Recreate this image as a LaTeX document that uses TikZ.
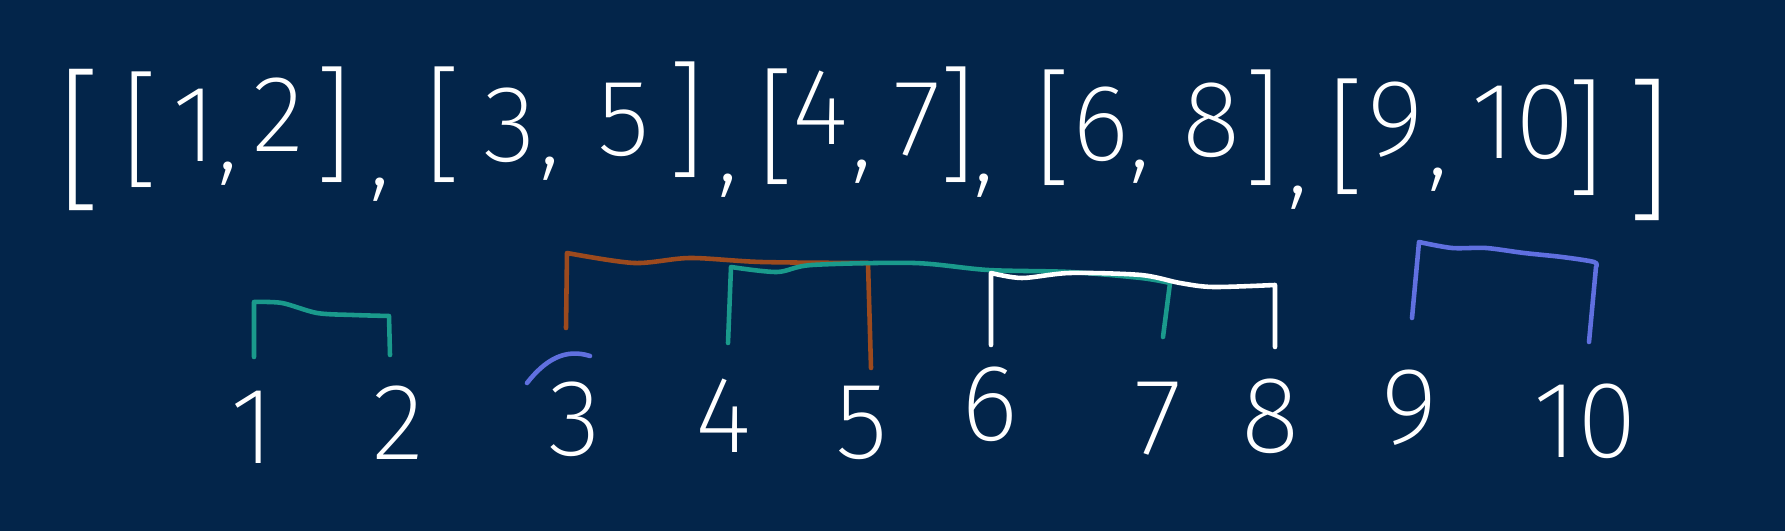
\documentclass[tikz,border=0pt]{standalone}
\usepackage{fontspec}
\IfFontExistsTF{Fira Sans ExtraLight}{\setmainfont{Fira Sans ExtraLight}}{\setmainfont{Fira Sans}}
\usetikzlibrary{calc}
\definecolor{board}{HTML}{03254A}
\definecolor{penteal}{HTML}{1A9A8C}
\definecolor{penbrown}{HTML}{9C4A1E}
\definecolor{penblue}{HTML}{6070E0}

\begin{document}
\begin{tikzpicture}[x=0.01cm,y=-0.01cm,
  tok/.style={text=white,inner sep=0pt,font=\fontsize{31}{31}\selectfont},
  brk/.style={tok,font=\fontsize{36}{36}\selectfont},
  obrk/.style={tok,font=\fontsize{44}{44}\selectfont},
  pen/.style={line width=1.3pt,line cap=round,line join=round}]
  \fill[board] (0,0) rectangle (1785,531);
  \useasboundingbox (0,0) rectangle (1785,531);
  % the list as written
  \foreach \nm/\x/\y/\s/\t in {lo/80/140/obrk/[, l1/140/130/brk/[, a1/195/125/tok/1, c1/228/174/tok/{,},
      b1/278/115/tok/2, r1/333/125/brk/], d1/380/190/tok/{,},
      l2/443/125/brk/[, a2/510/125/tok/3, c2/550/169/tok/{,}, b2/624/120/tok/5, r2/686/120/brk/], d2/728/186/tok/{,},
      l3/776/127/brk/[, a3/820/108/tok/4, c3/862/172/tok/{,}, b3/917/120/tok/7, r3/957/125/brk/], d3/984/186/tok/{,},
      l4/1053/128/brk/[, a4/1101/124/tok/6, c4/1140/172/tok/{,}, b4/1212/120/tok/8, r4/1262/128/brk/], d4/1298/198/tok/{,},
      l5/1346/137/brk/[, a5/1396/120/tok/9, c5/1438/180/tok/{,}, b5/1523/122/tok/10, r5/1585/138/brk/],
      ro/1649/150/obrk/]}
    \node[\s] (\nm) at (\x,\y) {\t};
  % number line
  \foreach \n/\x/\y in {1/253/427,2/398/423,3/575/419,4/723/416,5/862/423,
      6/990/404,7/1158/419,8/1271/416,9/1410/408,10/1585/421}
    \node[tok] (n\n) at (\x,\y) {\n};
  % intervals
  \draw[pen,penteal] (254,357) -- plot[smooth] coordinates {(254,302)(282,303)(317,313)(353,315)(389,316)} -- (390,355);
  \draw[pen,penbrown] (566,328) -- plot[smooth] coordinates {(567,253)(634,263)(690,258)(761,262)(868,263)} -- (871,368);
  \draw[pen,penteal] (728,343) -- plot[smooth] coordinates {(731,267)(777,272)(812,265)(914,263)(988,270)(1070,272)(1141,278)(1170,283)} -- (1163,337);
  \draw[pen,white] (991,345) -- plot[smooth] coordinates {(991,273)(1022,278)(1070,273)(1141,275)(1180,283)(1213,287)(1275,285)} -- (1275,347);
  \draw[pen,penblue] (1412,318) -- plot[smooth] coordinates {(1419,242)(1452,248)(1486,248)(1524,253)(1562,257)(1594,262)(1596,267)} -- (1589,342);
  \draw[pen,penblue] (527,383) .. controls (545,360) and (565,348) .. (590,356);
\end{tikzpicture}
\end{document}
